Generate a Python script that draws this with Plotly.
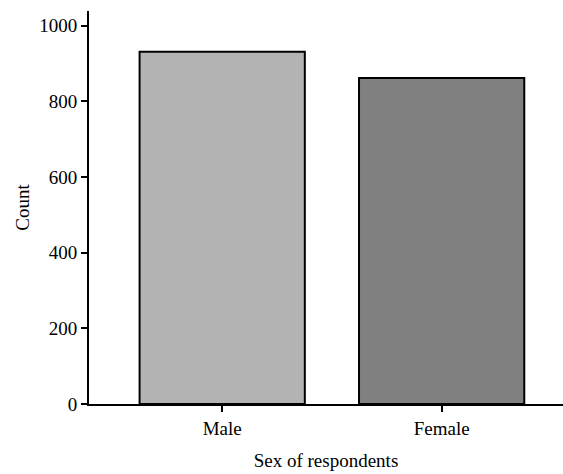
import plotly.graph_objects as go

categories = ["Male", "Female"]
counts = [931, 862]
bar_colors = ["#b3b3b3", "#808080"]

fig = go.Figure()
fig.add_trace(go.Bar(
    x=categories, y=counts, width=0.753,
    marker=dict(color=bar_colors, line=dict(color="black", width=2)),
))

font = dict(family="Liberation Serif", size=19, color="black")
fig.update_layout(
    width=563, height=474, autosize=False,
    margin=dict(l=89, r=0, t=11, b=70, autoexpand=False),
    plot_bgcolor="white", paper_bgcolor="white",
    font=font, showlegend=False,
)
fig.update_xaxes(
    range=[-0.607, 1.553], showline=True, linecolor="black", linewidth=2,
    ticks="outside", ticklen=6, tickwidth=2, tickcolor="black",
    ticklabelstandoff=0,
    showgrid=False, zeroline=False, automargin=False,
    title=dict(text="Sex of respondents", font=font, standoff=16),
)
fig.update_yaxes(
    range=[0, 1039], showline=True, linecolor="black", linewidth=2,
    ticks="outside", ticklen=6, tickwidth=2, tickcolor="black",
    tickvals=[0, 200, 400, 600, 800, 1000],
    showgrid=False, zeroline=False, automargin=False,
    title=dict(text="Count", font=font, standoff=5),
)
fig.write_html("out.html", config={"displayModeBar": False},
               post_script="document.body.style.margin='0';")
